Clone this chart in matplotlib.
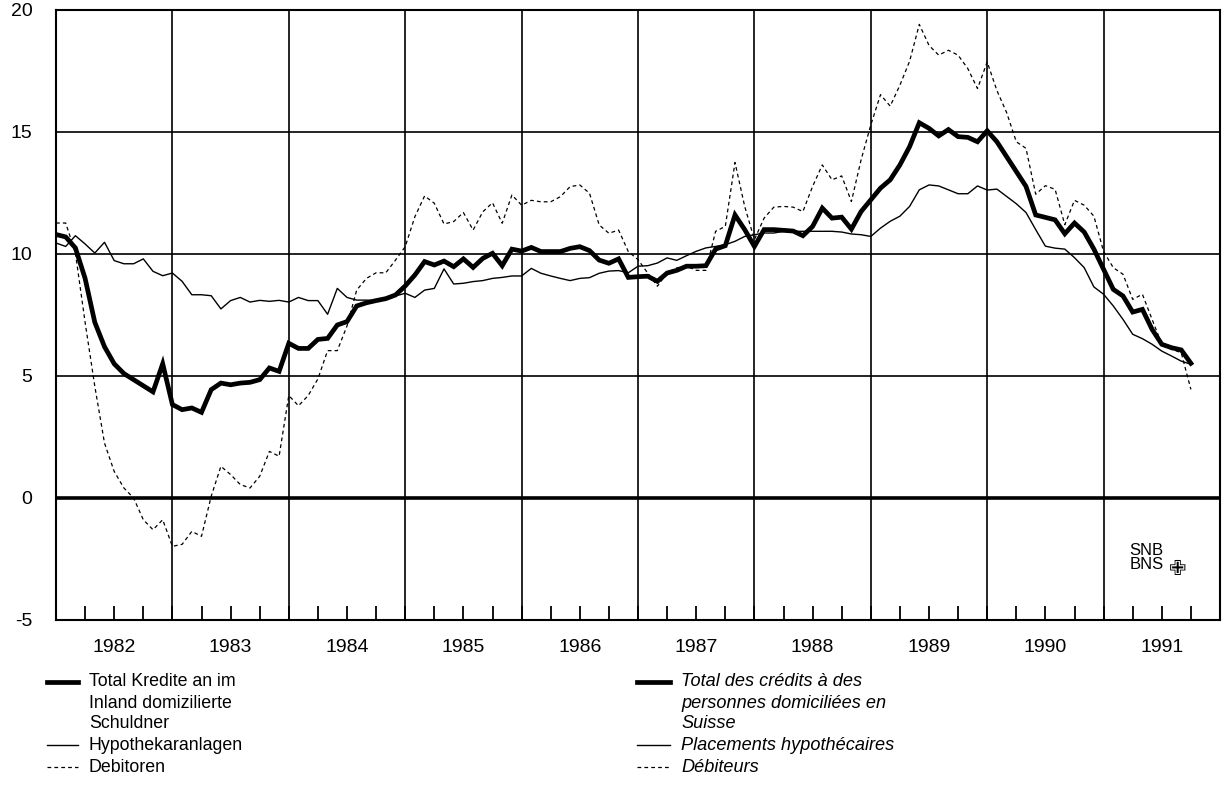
import matplotlib
matplotlib.use('Agg')
import matplotlib.pyplot as plt
from matplotlib.lines import Line2D
import numpy as np

plt.rcParams['font.family'] = ['Liberation Sans', 'DejaVu Sans']

# monthly growth rates, Jan 1982 - Oct 1991 (% vs. previous year)
start_year = 1982
years = list(range(1982, 1992))

total = [
    10.8, 10.7, 10.25, 9.0, 7.2, 6.2, 5.5, 5.1, 4.85, 4.6, 4.35, 5.5,
    3.83, 3.62, 3.69, 3.51, 4.44, 4.71, 4.64, 4.71, 4.74, 4.85, 5.33, 5.19,
    6.34, 6.13, 6.13, 6.5, 6.54, 7.09, 7.23, 7.87, 8.0, 8.09, 8.17, 8.32,
    8.69, 9.14, 9.69, 9.55, 9.71, 9.48, 9.8, 9.45, 9.82, 10.03, 9.52, 10.2,
    10.12, 10.27, 10.1, 10.1, 10.1, 10.23, 10.3, 10.14, 9.75, 9.62, 9.8, 9.04,
    9.07, 9.09, 8.88, 9.22, 9.33, 9.5, 9.5, 9.52, 10.2, 10.34, 11.6, 11.0,
    10.31, 11.0, 11.0, 10.97, 10.94, 10.75, 11.13, 11.88, 11.47, 11.51, 11.02, 11.74,
    12.22, 12.7, 13.04, 13.65, 14.4, 15.38, 15.15, 14.84, 15.1, 14.81, 14.78, 14.6,
    15.05, 14.6, 13.99, 13.38, 12.77, 11.6, 11.5, 11.4, 10.83, 11.27, 10.9, 10.2,
    9.37, 8.55, 8.28, 7.62, 7.73, 6.91, 6.3, 6.16, 6.07, 5.52,
]

mortgages = [
    10.45, 10.31, 10.75, 10.41, 10.04, 10.48, 9.73, 9.6, 9.6, 9.8, 9.29, 9.11,
    9.22, 8.88, 8.33, 8.33, 8.29, 7.75, 8.09, 8.22, 8.03, 8.1, 8.06, 8.1,
    8.03, 8.22, 8.09, 8.09, 7.53, 8.59, 8.22, 8.11, 8.11, 8.09, 8.18, 8.28,
    8.39, 8.22, 8.52, 8.59, 9.39, 8.77, 8.8, 8.87, 8.91, 9.0, 9.04, 9.1,
    9.1, 9.41, 9.21, 9.1, 9.0, 8.91, 9.0, 9.03, 9.21, 9.3, 9.32, 9.23,
    9.5, 9.52, 9.63, 9.84, 9.74, 9.93, 10.11, 10.25, 10.31, 10.38, 10.52, 10.72,
    10.79, 10.86, 10.86, 10.93, 10.93, 10.93, 10.93, 10.93, 10.93, 10.9, 10.82, 10.79,
    10.72, 11.06, 11.34, 11.55, 11.95, 12.63, 12.83, 12.79, 12.63, 12.47, 12.47, 12.79,
    12.62, 12.66, 12.36, 12.06, 11.7, 11.0, 10.32, 10.24, 10.2, 9.85, 9.44, 8.65,
    8.35, 7.87, 7.32, 6.71, 6.53, 6.3, 6.02, 5.82, 5.61, 5.48,
]

debtors = [
    11.27, 11.27, 10.04, 7.2, 4.58, 2.25, 1.09, 0.41, 0.0, -0.89, -1.3, -0.89,
    -1.98, -1.9, -1.37, -1.57, 0.07, 1.3, 0.96, 0.55, 0.41, 0.89, 1.91, 1.71,
    4.2, 3.78, 4.2, 4.88, 6.04, 6.04, 7.05, 8.52, 9.0, 9.23, 9.23, 9.75,
    10.3, 11.53, 12.38, 12.08, 11.23, 11.33, 11.7, 10.98, 11.73, 12.1, 11.26, 12.42,
    12.0, 12.2, 12.14, 12.14, 12.35, 12.76, 12.83, 12.49, 11.19, 10.85, 10.98, 10.1,
    9.77, 9.22, 8.68, 9.22, 9.43, 9.5, 9.33, 9.33, 10.93, 11.13, 13.75, 11.95,
    10.59, 11.47, 11.92, 11.95, 11.92, 11.74, 12.77, 13.65, 13.04, 13.2, 12.15, 13.86,
    15.29, 16.53, 16.06, 16.92, 17.9, 19.41, 18.55, 18.15, 18.35, 18.15, 17.6, 16.78,
    17.87, 16.7, 15.8, 14.6, 14.33, 12.45, 12.8, 12.65, 11.2, 12.2, 12.0, 11.55,
    10.1, 9.44, 9.17, 8.14, 8.35, 7.32, 6.3, 6.09, 5.96, 4.45,
]

labels_de = ['Total Kredite an im', 'Inland domizilierte', 'Schuldner',
             'Hypothekaranlagen', 'Debitoren']
labels_fr = ['Total des crédits à des', 'personnes domiciliées en', 'Suisse',
             'Placements hypothécaires', 'Débiteurs']

t = start_year + np.arange(len(total)) / 12

W, H = 1227, 806
fig = plt.figure(figsize=(W / 100, H / 100), dpi=100)
ax = fig.add_axes([56 / W, 1 - 620 / H, (1220 - 56) / W, (620 - 10) / H])

ax.plot(t, debtors, color='black', lw=0.9, ls=(0, (3, 2.5)), zorder=3)
ax.plot(t, mortgages, color='black', lw=1.0, zorder=4)
ax.plot(t, total, color='black', lw=3.4, solid_joinstyle='miter', zorder=5)

ax.set_xlim(1982, 1992)
ax.set_ylim(-5, 20)
ax.set_yticks([-5, 0, 5, 10, 15, 20])
ax.set_yticklabels(['-5', '0', '5', '10', '15', '20'])
ax.set_xticks(range(1982, 1993))
ax.set_xticklabels([])
quarters = [y + q / 4 for y in range(1982, 1992) for q in (1, 2, 3)]
ax.set_xticks(quarters, minor=True)
ax.tick_params(axis='x', which='both', direction='in', length=10, width=1.3)
ax.tick_params(axis='y', length=0, pad=17, labelsize=14)
ax.grid(True, color='black', lw=1.2)
ax.axhline(0, color='black', lw=2.6, zorder=2)
for s in ax.spines.values():
    s.set_linewidth(1.5)

for y in years:
    ax.annotate(str(y), xy=(y + 0.5, 0), xycoords=('data', 'axes fraction'),
                xytext=(0, -27), textcoords='offset pixels',
                ha='center', va='center', fontsize=14)

# SNB logo
ax.text(0.922, 0.102, 'SNB\nBNS', transform=ax.transAxes, fontsize=12,
        linespacing=0.9, va='center', ha='left')
ax.text(0.956, 0.083, '\u2719', transform=ax.transAxes, fontsize=15,
        va='center', ha='left', family='DejaVu Sans')

# legends
row_y = [682, 703, 724, 745, 767]
styles = [dict(lw=3.4), None, None, dict(lw=1.0), dict(lw=0.9, ls=(0, (3, 2.5)))]


def draw_legend(x0, x1, xt, labels, italic, size):
    for yy, lab, st in zip(row_y, labels, styles):
        fy = 1 - yy / H
        if st is not None:
            fig.add_artist(Line2D([x0 / W, x1 / W], [fy, fy], color='black', **st))
        fig.text(xt / W, fy, lab, fontsize=size, va='center', ha='left',
                 style='italic' if italic else 'normal')


draw_legend(47, 78, 89, labels_de, False, 12.8)
draw_legend(637, 670, 681, labels_fr, True, 13.1)

fig.savefig('out.png', dpi=100)
